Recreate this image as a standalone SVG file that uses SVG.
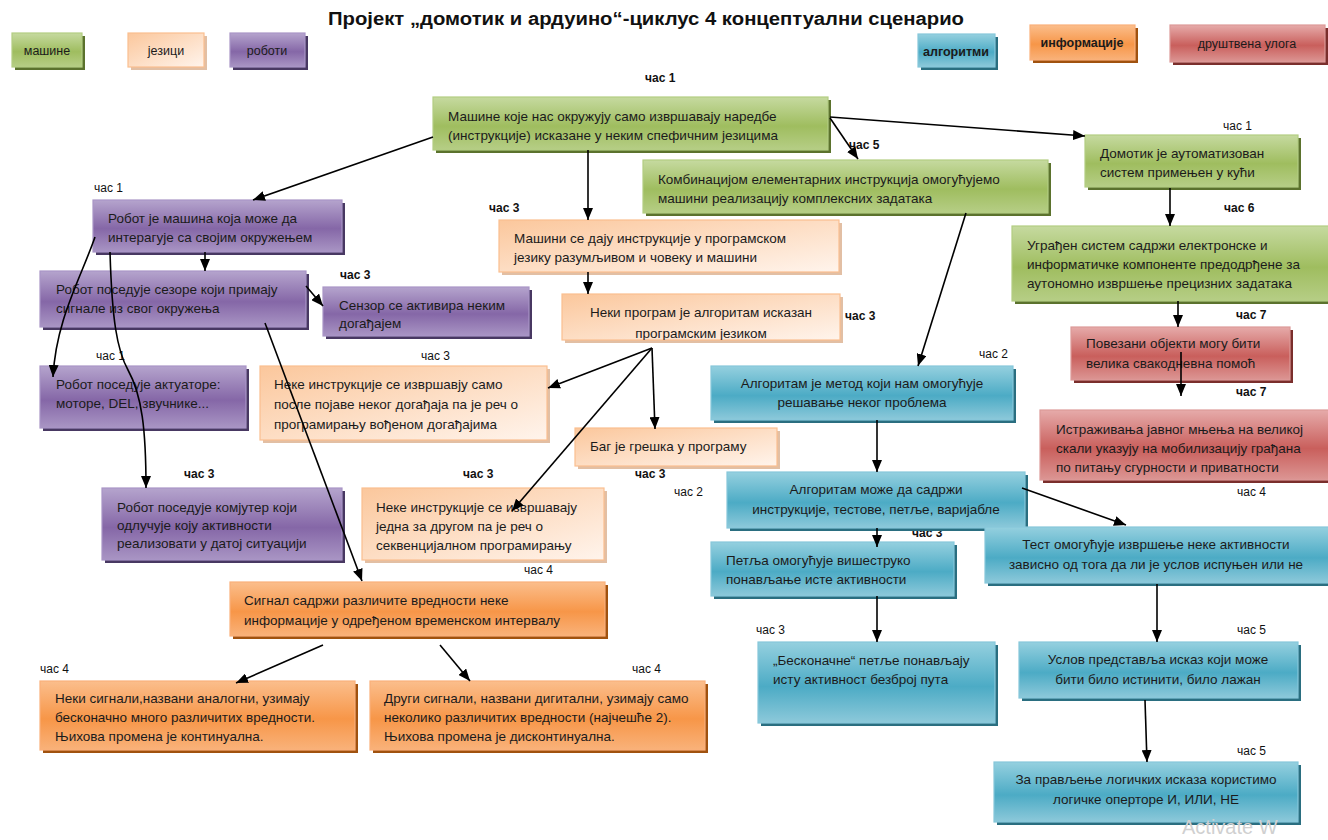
<svg xmlns="http://www.w3.org/2000/svg" width="1328" height="840" viewBox="0 0 1328 840">
<defs>
<linearGradient id="gG" x1="0" y1="0" x2="0" y2="1"><stop offset="0" stop-color="#c6daa0"/><stop offset="0.55" stop-color="#9fbd5f"/><stop offset="1" stop-color="#b6ce86"/></linearGradient>
<linearGradient id="gP" x1="0" y1="0" x2="0" y2="1"><stop offset="0" stop-color="#b5a4cd"/><stop offset="0.55" stop-color="#8567a7"/><stop offset="1" stop-color="#a995c4"/></linearGradient>
<linearGradient id="gL" x1="0" y1="0" x2="1" y2="1"><stop offset="0" stop-color="#fbc79c"/><stop offset="1" stop-color="#fff4ec"/></linearGradient>
<linearGradient id="gO" x1="0" y1="0" x2="0" y2="1"><stop offset="0" stop-color="#fbbe8c"/><stop offset="0.55" stop-color="#f79648"/><stop offset="1" stop-color="#f9b27a"/></linearGradient>
<linearGradient id="gB" x1="0" y1="0" x2="0" y2="1"><stop offset="0" stop-color="#95d0df"/><stop offset="0.55" stop-color="#4cabc5"/><stop offset="1" stop-color="#8dc9da"/></linearGradient>
<linearGradient id="gR" x1="0" y1="0" x2="0" y2="1"><stop offset="0" stop-color="#e6abaa"/><stop offset="0.55" stop-color="#c95f5c"/><stop offset="1" stop-color="#dc9694"/></linearGradient>
<marker id="ah" markerUnits="userSpaceOnUse" markerWidth="12" markerHeight="10" refX="12" refY="5" orient="auto"><path d="M0,0 L12,5 L0,10 z" fill="#000"/></marker>
<clipPath id="clip13"><rect x="562" y="294" width="280" height="46"/></clipPath>
</defs>
<style>
.t{font-family:"Liberation Sans",Arial,sans-serif;font-size:13.5px;fill:#1b1b1b}
.c{text-anchor:middle}
.b{font-weight:bold}
.h{font-family:"Liberation Sans",Arial,sans-serif;font-size:12px;fill:#111}
.lg{font-family:"Liberation Sans",Arial,sans-serif;font-size:12.5px;fill:#1b1b1b;text-anchor:middle}
.G{fill:url(#gG);stroke:#b3cd82;stroke-width:1.2}
.P{fill:url(#gP);stroke:#a995c6;stroke-width:1.2}
.L{fill:url(#gL);stroke:#fbbf8f;stroke-width:1.2}
.O{fill:url(#gO);stroke:#fab07a;stroke-width:1.2}
.B{fill:url(#gB);stroke:#86c7da;stroke-width:1.2}
.R{fill:url(#gR);stroke:#dc9a98;stroke-width:1.2}
.sG{fill:#5b722d}.sP{fill:#483862}.sL{fill:#e2bfa4}.sO{fill:#a0520f}.sB{fill:#2a6e80}.sR{fill:#7a2e2c}
.cn{fill:none;stroke:#000;stroke-width:1.6;marker-end:url(#ah)}
</style>
<rect width="1328" height="840" fill="#fff"/>
<text x="646" y="25" font-family="'Liberation Sans',Arial,sans-serif" font-size="18" font-weight="bold" text-anchor="middle" fill="#111" textLength="636" lengthAdjust="spacingAndGlyphs">Пројект „домотик и ардуино“-циклус 4 концептуални сценарио</text>

<g id="legend">
<g id="leg-masine"><rect class="sG" x="15" y="36" width="70" height="34"/><rect class="G" x="12" y="33" width="70" height="34"/><text class="lg" x="47" y="55">машине</text></g>
<g id="leg-jezici"><rect class="sL" x="131" y="36" width="76" height="34"/><rect class="L" x="128" y="33" width="76" height="34"/><text class="lg" x="166" y="55">језици</text></g>
<g id="leg-roboti"><rect class="sP" x="233" y="36" width="75" height="34"/><rect class="P" x="230" y="33" width="75" height="34"/><text class="lg" x="267" y="55">роботи</text></g>
<g id="leg-algoritmi"><rect class="sB" x="921" y="37" width="77" height="33"/><rect class="B" x="918" y="34" width="77" height="33"/><text class="lg b" x="956" y="56">алгоритми</text></g>
<g id="leg-informacije"><rect class="sO" x="1033" y="28" width="105" height="35"/><rect class="O" x="1030" y="25" width="105" height="35"/><text class="lg b" x="1082" y="47">информације</text></g>
<g id="leg-drustvena"><rect class="sR" x="1173" y="28" width="155" height="37"/><rect class="R" x="1170" y="25" width="155" height="37"/><text class="lg" x="1247" y="48">друштвена улога</text></g>
</g>

<g id="hours">
<text class="h b" x="645" y="82">час 1</text>
<text class="h b" x="849" y="149">час 5</text>
<text class="h" x="1223" y="130">час 1</text>
<text class="h b" x="1224" y="212">час 6</text>
<text class="h b" x="1236" y="319">час 7</text>
<text class="h b" x="1236" y="396">час 7</text>
<text class="h" x="94" y="192">час 1</text>
<text class="h b" x="340" y="279">час 3</text>
<text class="h b" x="489" y="212">час 3</text>
<text class="h b" x="845" y="320">час 3</text>
<text class="h" x="96" y="360">час 1</text>
<text class="h" x="421" y="360">час 3</text>
<text class="h b" x="184" y="478">час 3</text>
<text class="h b" x="463" y="478">час 3</text>
<text class="h b" x="635" y="478">час 3</text>
<text class="h" x="979" y="358">час 2</text>
<text class="h" x="674" y="496">час 2</text>
<text class="h b" x="912" y="537">час 3</text>
<text class="h" x="1237" y="496">час 4</text>
<text class="h" x="524" y="574">час 4</text>
<text class="h" x="40" y="673">час 4</text>
<text class="h" x="632" y="673">час 4</text>
<text class="h" x="756" y="634">час 3</text>
<text class="h" x="1237" y="634">час 5</text>
<text class="h" x="1237" y="755">час 5</text>
</g>

<g id="n1"><rect class="sG" x="436" y="100" width="395" height="53"/><rect class="G" x="433" y="97" width="395" height="53"/><text class="t" x="448" y="121">Машине које нас окружују само извршавају наредбе</text><text class="t" x="448" y="140">(инструкције) исказане  у неким спефичним језицима</text></g>
<g id="n2"><rect class="sG" x="646" y="163" width="405" height="53"/><rect class="G" x="643" y="160" width="405" height="53"/><text class="t" x="658" y="184">Комбинацијом елементарних инструкција  омогућујемо</text><text class="t" x="658" y="203">машини реализацију комплексних задатака</text></g>
<g id="n3"><rect class="sG" x="1088" y="138" width="213" height="52"/><rect class="G" x="1085" y="135" width="213" height="52"/><text class="t" x="1100" y="158">Домотик је аутоматизован</text><text class="t" x="1100" y="177">систем примењен у кући</text></g>
<g id="n4"><rect class="sG" x="1015" y="229" width="320" height="75"/><rect class="G" x="1012" y="226" width="320" height="75"/><text class="t" x="1027" y="250">Уграђен систем садржи електронске и</text><text class="t" x="1027" y="269">информатичке компоненте предодрђене за</text><text class="t" x="1027" y="288">аутономно извршење прецизних  задатака</text></g>
<g id="n5"><rect class="sR" x="1074" y="330" width="219" height="53"/><rect class="R" x="1071" y="327" width="219" height="53"/><text class="t" x="1086" y="348">Повезани објекти могу  бити</text><text class="t" x="1086" y="368">велика свакодневна помоћ</text></g>
<g id="n6"><rect class="sR" x="1043" y="413" width="290" height="70"/><rect class="R" x="1040" y="410" width="290" height="70"/><text class="t" x="1056" y="434">Истраживања јавног мњења на великој</text><text class="t" x="1056" y="453">скали указују на мобилизацију грађана</text><text class="t" x="1056" y="472">по питању сгурности и приватности</text></g>

<g id="n7"><rect class="sP" x="96" y="203" width="249" height="52"/><rect class="P" x="93" y="200" width="249" height="52"/><text class="t" x="108" y="223">Робот је машина која може да</text><text class="t" x="108" y="242">интерагује са својим окружењем</text></g>
<g id="n8"><rect class="sP" x="43" y="274" width="266" height="56"/><rect class="P" x="40" y="271" width="266" height="56"/><text class="t" x="56" y="294">Робот поседује сезоре који примају</text><text class="t" x="56" y="313">сигнале из свог окружења</text></g>
<g id="n9"><rect class="sP" x="326" y="290" width="206" height="49"/><rect class="P" x="323" y="287" width="206" height="49"/><text class="t" x="339" y="310">Сензор се активира неким</text><text class="t" x="339" y="328">догађајем</text></g>
<g id="n10"><rect class="sP" x="43" y="369" width="206" height="62"/><rect class="P" x="40" y="366" width="206" height="62"/><text class="t" x="56" y="389">Робот поседује актуаторе:</text><text class="t" x="56" y="408">моторе, DEL, звучнике...</text></g>
<g id="n11"><rect class="sP" x="105" y="491" width="240" height="72"/><rect class="P" x="102" y="488" width="240" height="72"/><text class="t" x="117" y="512">Робот поседује комјутер који</text><text class="t" x="117" y="530">одлучује коју активности</text><text class="t" x="117" y="548">реализовати у датој ситуацији</text></g>

<g id="n12"><rect class="sL" x="502" y="223" width="340" height="52"/><rect class="L" x="499" y="220" width="340" height="52"/><text class="t" x="514" y="243">Машини се дају инструкције у програмском</text><text class="t" x="514" y="262">језику разумљивом и човеку и машини</text></g>
<g id="n13"><rect class="sL" x="565" y="297" width="278" height="46"/><rect class="L" x="562" y="294" width="278" height="46"/><g clip-path="url(#clip13)"><text class="t c" x="701" y="317">Неки програм је алгоритам исказан</text><text class="t c" x="701" y="338">програмским  језиком</text></g></g>
<g id="n14"><rect class="sL" x="263" y="369" width="287" height="74"/><rect class="L" x="260" y="366" width="287" height="74"/><text class="t" x="274" y="389">Неке инструкције се извршавју само</text><text class="t" x="274" y="409">после појаве неког догађаја па је реч о</text><text class="t" x="274" y="429">програмирању вођеном догађајима</text></g>
<g id="n15"><rect class="sL" x="578" y="431" width="202" height="38"/><rect class="L" x="575" y="428" width="202" height="38"/><text class="t" x="590" y="451">Баг је грешка у програму</text></g>
<g id="n16"><rect class="sL" x="365" y="491" width="242" height="72"/><rect class="L" x="362" y="488" width="242" height="72"/><text class="t" x="376" y="512">Неке инструкције се извршавају</text><text class="t" x="376" y="531">једна за другом па је реч о</text><text class="t" x="376" y="550">секвенцијалном програмирању</text></g>

<g id="n17"><rect class="sO" x="233" y="585" width="375" height="54"/><rect class="O" x="230" y="582" width="375" height="54"/><text class="t" x="244" y="605">Сигнал садржи различите вредности неке</text><text class="t" x="244" y="625">информације у одређеном временском интервалу</text></g>
<g id="n18"><rect class="sO" x="43" y="684" width="315" height="69"/><rect class="O" x="40" y="681" width="315" height="69"/><text class="t" x="55" y="703">Неки сигнали,названи аналогни, узимају</text><text class="t" x="55" y="722">бесконачно  много различитих  вредности.</text><text class="t" x="55" y="741">Њихова промена је континуална.</text></g>
<g id="n19"><rect class="sO" x="373" y="684" width="335" height="69"/><rect class="O" x="370" y="681" width="335" height="69"/><text class="t" x="384" y="703">Други сигнали, названи дигитални, узимају само</text><text class="t" x="384" y="722">неколико различитих вредности (најчешће 2).</text><text class="t" x="384" y="741">Њихова промена је дисконтинуална.</text></g>

<g id="n20"><rect class="sB" x="714" y="369" width="302" height="54"/><rect class="B" x="711" y="366" width="302" height="54"/><text class="t c" x="862" y="388">Алгоритам је метод који нам омогућује</text><text class="t c" x="862" y="407">решавање неког проблема</text></g>
<g id="n21"><rect class="sB" x="730" y="475" width="298" height="56"/><rect class="B" x="727" y="472" width="298" height="56"/><text class="t c" x="876" y="494">Алгоритам може да садржи</text><text class="t c" x="876" y="514">инструкције, тестове, петље, варијабле</text></g>
<g id="n22"><rect class="sB" x="714" y="545" width="243" height="54"/><rect class="B" x="711" y="542" width="243" height="54"/><text class="t" x="726" y="565">Петља  омогућује вишеструко</text><text class="t" x="726" y="584">понављање исте активности</text></g>
<g id="n23"><rect class="sB" x="988" y="530" width="345" height="56"/><rect class="B" x="985" y="527" width="345" height="56"/><text class="t c" x="1156" y="549">Тест омогућује извршење неке активности</text><text class="t c" x="1156" y="569">зависно од тога да ли је услов испуњен или не</text></g>
<g id="n24"><rect class="sB" x="761" y="645" width="237" height="81"/><rect class="B" x="758" y="642" width="237" height="81"/><text class="t" x="773" y="665">„Бесконачне“ петље понављају</text><text class="t" x="773" y="684">исту активност безброј пута</text></g>
<g id="n25"><rect class="sB" x="1022" y="645" width="279" height="56"/><rect class="B" x="1019" y="642" width="279" height="56"/><text class="t c" x="1158" y="664">Услов представља исказ који може</text><text class="t c" x="1158" y="684">бити било истинити, било лажан</text></g>
<g id="n26"><rect class="sB" x="997" y="765" width="304" height="60"/><rect class="B" x="994" y="762" width="304" height="60"/><text class="t c" x="1146" y="784">За прављење логичких исказа  користимо</text><text class="t c" x="1146" y="804">логичке оперторе И, ИЛИ, НЕ</text></g>

<g id="connectors">
<path class="cn" d="M433,137 L253,200"/>
<path class="cn" d="M588,150 L588,220"/>
<path class="cn" d="M830,118 L858,159"/>
<path class="cn" d="M830,117 L1085,136"/>
<path class="cn" d="M1170,188 L1170,226"/>
<path class="cn" d="M1178,301 L1178,327"/>
<path class="cn" d="M1181,352 L1181,396"/>
<path class="cn" d="M966,213 L918,366"/>
<path class="cn" d="M205,252 L205,271"/>
<path class="cn" d="M95,237 C80,280 56,320 53,377"/>
<path class="cn" d="M110,252 C112,320 117,350 128,370 C142,395 146,430 146,488"/>
<path class="cn" d="M306,286 L323,306"/>
<path class="cn" d="M265,323 L362,581"/>
<path class="cn" d="M588,272 L588,294"/>
<path class="cn" d="M652,348 L548,388"/>
<path class="cn" d="M652,348 L655,429"/>
<path class="cn" d="M652,348 L512,511"/>
<path class="cn" d="M323,645 L236,683"/>
<path class="cn" d="M440,645 L470,681"/>
<path class="cn" d="M877,420 L877,472"/>
<path class="cn" d="M877,528 L877,547"/>
<path class="cn" d="M1022,488 L1126,525"/>
<path class="cn" d="M877,596 L877,642"/>
<path class="cn" d="M1157,584 L1157,642"/>
<path class="cn" d="M1145,700 L1147,762"/>
</g>
<text x="1182" y="834" font-family="'Liberation Sans',Arial,sans-serif" font-size="20" fill="#d0d0d0">Activate W</text>
</svg>
